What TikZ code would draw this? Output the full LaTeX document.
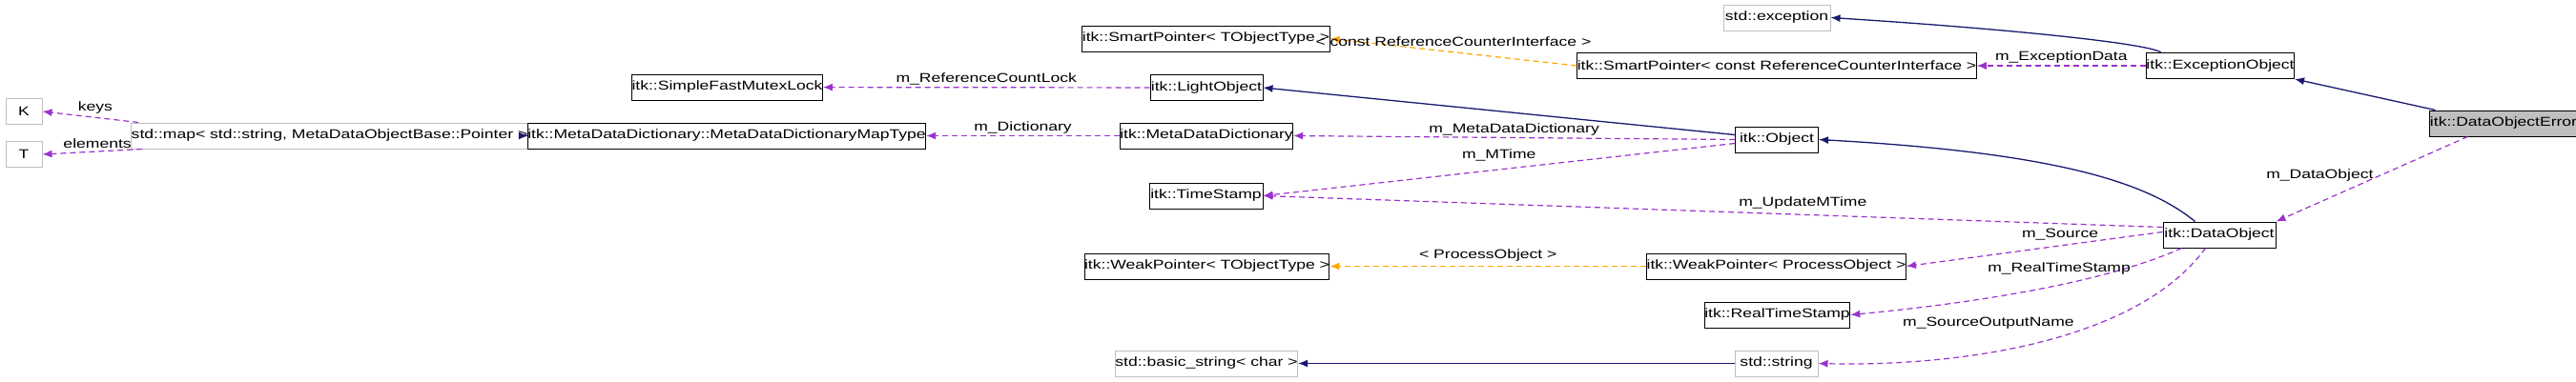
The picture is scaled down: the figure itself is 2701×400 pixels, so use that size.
\documentclass[tikz,border=0pt]{standalone}
\usepackage{fontspec}
\setmainfont{Liberation Sans}[FakeStretch=1.3]
\usetikzlibrary{arrows.meta}
\definecolor{navy}{HTML}{191970}
\definecolor{purp}{HTML}{9A32CD}
\definecolor{orng}{HTML}{FFA500}
\definecolor{gbord}{HTML}{BFBFBF}
\begin{document}
\begin{tikzpicture}[x=1pt,y=-1pt,
  box/.style={draw=black,line width=1pt,minimum height=27pt,inner sep=0pt,font=\fontsize{13.5}{15}\selectfont},
  gbox/.style={box,draw=gbord},
  inh/.style={navy,line width=1.3pt,-{Latex[length=10pt,width=8pt]}},
  use/.style={purp,line width=1.2pt,dashed,dash pattern=on 6pt off 4pt,-{Latex[length=10pt,width=8pt]}},
  tpl/.style={orng,line width=1.2pt,dashed,dash pattern=on 6pt off 4pt,-{Latex[length=10pt,width=8pt]}},
  lbl/.style={font=\fontsize{13.5}{15}\selectfont,inner sep=0pt,text=black}]
\useasboundingbox (0,0) rectangle (2701,400);
\node[gbox,minimum width=38pt] (K) at (25,117) {K};
\node[gbox,minimum width=38pt] (T) at (25,162) {T};
\node[gbox,minimum width=371pt] (map) at (345.5,142.5) {std::map< std::string, MetaDataObjectBase::Pointer >};
\node[box,minimum width=362pt] (mtype) at (762,142.5) {itk::MetaDataDictionary::MetaDataDictionaryMapType};
\node[box,minimum width=183pt] (mutex) at (762.5,91.5) {itk::SimpleFastMutexLock};
\node[box,minimum width=237pt] (spt) at (1264.5,40.5) {itk::SmartPointer< TObjectType >};
\node[box,minimum width=118pt] (light) at (1265,92) {itk::LightObject};
\node[box,minimum width=172pt] (mdd) at (1265,142.5) {itk::MetaDataDictionary};
\node[box,minimum width=119pt] (ts) at (1264.5,205.5) {itk::TimeStamp};
\node[box,minimum width=229pt] (wpt) at (1265.5,279.5) {itk::WeakPointer< TObjectType >};
\node[gbox,minimum width=184pt] (bstr) at (1265,381.5) {std::basic\_string< char >};
\node[gbox,minimum width=112pt] (exc) at (1863,18.5) {std::exception};
\node[box,minimum width=372pt] (spc) at (1863,69) {itk::SmartPointer< const ReferenceCounterInterface >};
\node[box,minimum width=87pt] (obj) at (1863,146.5) {itk::Object};
\node[box,minimum width=245pt] (wpp) at (1862.5,279.5) {itk::WeakPointer< ProcessObject >};
\node[box,minimum width=145pt] (rts) at (1863.5,330.5) {itk::RealTimeStamp};
\node[gbox,minimum width=87pt] (str) at (1862.5,381.5) {std::string};
\node[box,minimum width=148pt] (eo) at (2328,69) {itk::ExceptionObject};
\node[box,minimum width=118pt] (dobj) at (2327,246.5) {itk::DataObject};
\node[box,minimum width=150pt,fill=gbord] (doe) at (2625,129.5) {itk::DataObjectError};

\draw[use] (map.north west) ++(8,0) -- (K.east) node[lbl,pos=0.45,above=3pt] {keys};
\draw[use] (map.south west) ++(12,0) -- (T.east) node[lbl,pos=0.45,above=3pt] {elements};
\draw[inh] (mtype) -- (map);
\draw[use] (mdd) -- (mtype) node[lbl,midway,above=2pt] {m\_Dictionary};
\draw[use] (light) -- (mutex) node[lbl,midway,above=2pt] {m\_ReferenceCountLock};
\draw[tpl] (spc.west) -- (spt.east) node[lbl,pos=0.5,above=6pt] {< const ReferenceCounterInterface >};
\draw[inh] (obj.west) ++(0,-5) -- (light.east);
\draw[use] (obj.west) ++(0,0) -- (mdd.east) node[lbl,midway,above=2pt] {m\_MetaDataDictionary};
\draw[use] (obj.west) ++(0,4) -- (ts.east) node[lbl,midway,above=8pt] {m\_MTime};
\draw[inh] (eo.north west) ++(16,0) .. controls (2250,45) and (2100,30) .. (exc.east);
\draw[use] (eo) -- (spc) node[lbl,midway,above=2pt] {m\_ExceptionData};
\draw[inh] (doe.north west) ++(6,0) -- (eo.south east);
\draw[use] (doe.south west) ++(40,0) -- (dobj.north east) node[lbl,pos=0.45,left=8pt] {m\_DataObject};
\draw[inh] (dobj.north west) ++(34,0) .. controls (2250,190) and (2150,160) .. (obj.east);
\draw[use] (dobj.west) ++(0,-8) -- (ts.east) node[lbl,pos=0.4,above=5pt] {m\_UpdateMTime};
\draw[use] (dobj.west) ++(0,-3) -- (wpp.east) node[lbl,pos=0.4,above=5pt] {m\_Source};
\draw[tpl] (wpp) -- (wpt) node[lbl,midway,above=5pt] {< ProcessObject >};
\draw[use] (dobj.south west) ++(20,0) .. controls (2200,300) and (2050,320) .. (rts.east) node[lbl,pos=0.4,above=10pt] {m\_RealTimeStamp};
\draw[use] (dobj.south west) ++(45,0) .. controls (2240,360) and (2050,385) .. (str.east) node[lbl,pos=0.35,left=25pt] {m\_SourceOutputName};
\draw[inh] (str) -- (bstr);
\end{tikzpicture}
\end{document}
